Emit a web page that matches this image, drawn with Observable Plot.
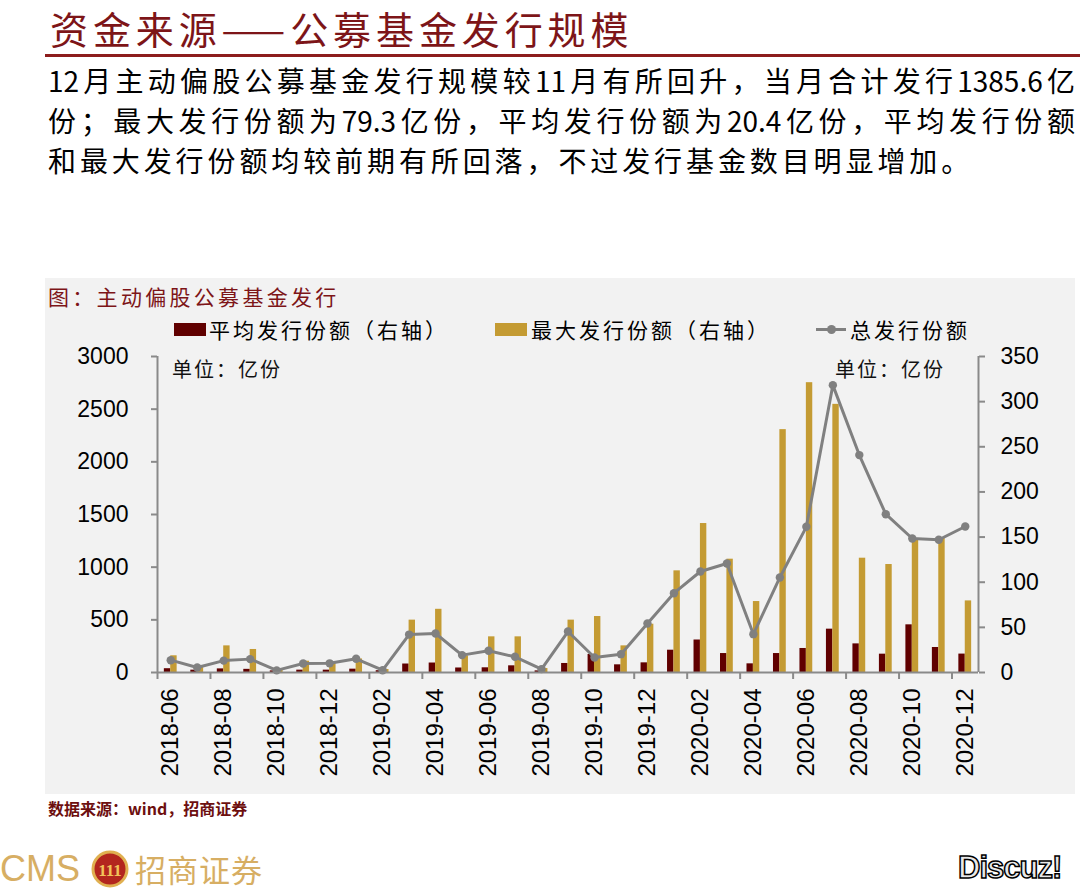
<!DOCTYPE html>
<html><head><meta charset="utf-8">
<script src="https://cdn.jsdelivr.net/npm/d3@7"></script>
<script src="https://cdn.jsdelivr.net/npm/@observablehq/plot@0.6"></script>
<style>
body{margin:0;width:1080px;height:891px;background:#fff;position:relative;overflow:hidden;font-family:"Noto Sans CJK SC","Noto Sans",sans-serif;}
.abs{position:absolute;white-space:nowrap;}
#chart{position:absolute;left:0;top:340px;}
</style></head><body>
<div class="abs" style="left:50px;top:0px;font-size:38px;line-height:56px;height:56px;color:#7d1518;letter-spacing:4.9px;">资金来源——公募基金发行规模</div>
<div class="abs" style="left:45px;top:54px;width:1035px;height:3px;background:#8c1c1c"></div>
<div class="abs" style="left:48px;top:60px;width:1027px;font-size:28px;line-height:40px;color:#000;text-align:justify;text-align-last:justify;">12月主动偏股公募基金发行规模较11月有所回升，当月合计发行1385.6亿</div>
<div class="abs" style="left:48px;top:100px;width:1027px;font-size:28px;line-height:40px;color:#000;text-align:justify;text-align-last:justify;">份；最大发行份额为79.3亿份，平均发行份额为20.4亿份，平均发行份额</div>
<div class="abs" style="left:48px;top:140px;font-size:28px;line-height:40px;color:#000;letter-spacing:3.9px;">和最大发行份额均较前期有所回落，不过发行基金数目明显增加。</div>

<div class="abs" style="left:45px;top:278px;width:1030px;height:516px;background:#f2f2f2"></div>
<div class="abs" style="left:48px;top:281px;font-size:21px;line-height:30px;color:#7d1518;letter-spacing:3.3px;">图：主动偏股公募基金发行</div>

<div class="abs" style="left:174px;top:323px;width:32px;height:13px;background:#600000"></div>
<div class="abs" style="left:209px;top:314px;font-size:21px;line-height:30px;color:#000;letter-spacing:3px;">平均发行份额（右轴）</div>
<div class="abs" style="left:495px;top:323px;width:32px;height:13px;background:#c49b33"></div>
<div class="abs" style="left:531px;top:314px;font-size:21px;line-height:30px;color:#000;letter-spacing:3px;">最大发行份额（右轴）</div>
<div class="abs" style="left:816px;top:328px;width:30px;height:3px;background:#808080"></div>
<div class="abs" style="left:827px;top:325px;width:9px;height:9px;border-radius:50%;background:#808080"></div>
<div class="abs" style="left:850px;top:314px;font-size:21px;line-height:30px;color:#000;letter-spacing:3px;">总发行份额</div>

<div id="chart"></div>
<div class="abs" style="left:172px;top:355px;font-size:20px;line-height:28px;color:#111;letter-spacing:2px;">单位：亿份</div>
<div class="abs" style="left:835px;top:355px;font-size:20px;line-height:28px;color:#111;letter-spacing:2px;">单位：亿份</div>

<div class="abs" style="left:48px;top:797px;font-size:16px;line-height:22px;color:#6d0f0f;font-weight:bold;">数据来源：wind，招商证券</div>

<div class="abs" style="left:0px;top:848px;font-size:36px;line-height:42px;color:#d7ae63;font-family:'Liberation Sans Narrow','Liberation Sans',sans-serif;font-stretch:condensed;">CMS</div>
<svg class="abs" style="left:90px;top:850px" width="40" height="40"><circle cx="20" cy="19" r="17" fill="#b3261e" stroke="#e0b050" stroke-width="3"/><text x="20" y="26" text-anchor="middle" font-size="17" font-weight="bold" fill="#f2c35a" font-family="Liberation Serif">111</text></svg>
<div class="abs" style="left:135px;top:848px;font-size:31px;line-height:42px;color:#d7ae63;letter-spacing:1px;">招商证券</div>
<div class="abs" style="left:958px;top:848px;font-size:31px;line-height:40px;font-weight:bold;color:#e8e8e8;-webkit-text-stroke:1.5px #000;font-family:'Liberation Sans Narrow','Liberation Sans',sans-serif;letter-spacing:-1px;">Discuz!</div>

<script>
const months = ["2018-06","2018-07","2018-08","2018-09","2018-10","2018-11","2018-12",
"2019-01","2019-02","2019-03","2019-04","2019-05","2019-06","2019-07","2019-08","2019-09","2019-10","2019-11","2019-12",
"2020-01","2020-02","2020-03","2020-04","2020-05","2020-06","2020-07","2020-08","2020-09","2020-10","2020-11","2020-12"];
// 平均发行份额（右轴，亿份）
const avgIssue = [4.2,2.6,4,3.5,1.8,2.6,2.6,3.7,2,9.4,10.5,5,5.2,7.4,1.8,10,20,8.5,10.7,24.7,36,21,9.6,21,26.6,48,31.7,20.3,52.8,27.7,20.4];
// 最大发行份额（右轴，亿份）
const maxIssue = [18.5,6,29.5,25.5,3,12.5,10,15,3.3,58,70,18.5,39.5,39.5,4.4,58,62,29.5,53.5,112.6,165,125.5,78.6,269,321,297,126.6,119.6,146.6,148.4,79.3];
// 总发行份额（左轴，亿份）
const totalIssue = [117,47,113,127,20,85,87,130,22,360,370,165,206,149,32,389,142,174,465,753,959,1035,364,902,1383,2728,2064,1503,1272,1260,1386];
const leftTicks = [0,500,1000,1500,2000,2500,3000];
const rightTicks = [0,50,100,150,200,250,300,350];
const leftMax = 3000, rightMax = 350;

const k = leftMax / rightMax;
const rows = months.map((m, i) => ({m, avg: avgIssue[i], max: maxIssue[i], total: totalIssue[i]}));
const W = 1080, H = 450, mL = 157, mR = 102;
const bw = (W - mL - mR) / months.length;
const barW = 6.4;
const labelMonths = months.filter((d, i) => i % 2 === 0);
const axisColor = "#8a8a8a";

const chart = Plot.plot({
  width: W, height: H,
  marginLeft: mL, marginRight: mR, marginTop: 16, marginBottom: 118,
  style: {background: "transparent", fontFamily: "'Liberation Sans', Arial, sans-serif", overflow: "visible", color: "#000"},
  x: {type: "band", domain: months, padding: 0, round: false},
  y: {domain: [0, leftMax]},
  marks: [
    Plot.barY(rows, {x: "m", y: d => d.avg * k, fill: "#600000", insetLeft: bw / 2 - barW, insetRight: bw / 2}),
    Plot.barY(rows, {x: "m", y: d => d.max * k, fill: "#c49b33", insetLeft: bw / 2, insetRight: bw / 2 - barW}),
    Plot.lineY(rows, {x: "m", y: "total", stroke: "#808080", strokeWidth: 3}),
    Plot.dot(rows, {x: "m", y: "total", fill: "#808080", r: 4.2}),
    Plot.ruleY([0], {stroke: axisColor, strokeWidth: 2}),
    Plot.ruleX([months[0]], {dx: -bw / 2, stroke: axisColor, strokeWidth: 2}),
    Plot.ruleX([months[months.length - 1]], {dx: bw / 2, stroke: axisColor, strokeWidth: 2}),
    Plot.axisY({anchor: "left", ticks: leftTicks, tickFormat: d => String(d), tickSize: 6, tickPadding: 23, fontSize: 23, stroke: axisColor, strokeWidth: 2, fill: "#000", label: null}),
    Plot.axisY({anchor: "right", ticks: rightTicks.map(v => v * k), tickFormat: d => String(Math.round(d / k)), tickSize: 6, tickPadding: 16, fontSize: 23, stroke: axisColor, strokeWidth: 2, fill: "#000", label: null}),
    Plot.axisX({ticks: labelMonths, tickSize: 7, tickFormat: () => "", dx: -bw / 2, stroke: axisColor, strokeWidth: 2, label: null}),
    Plot.axisX({ticks: labelMonths, tickSize: 0, tickPadding: 16, tickRotate: -90, fontSize: 24, fill: "#000", label: null})
  ]
});
document.getElementById("chart").appendChild(chart);
</script>
</body></html>
